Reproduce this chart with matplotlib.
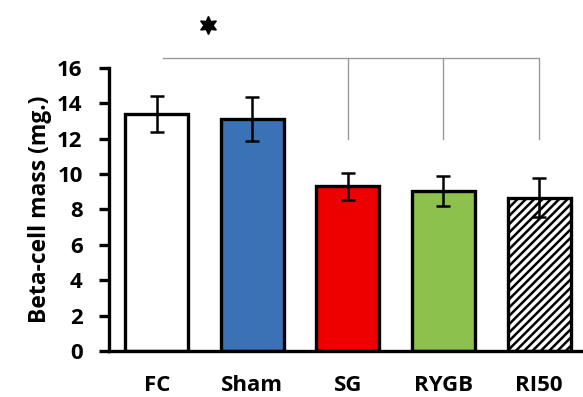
import matplotlib.pyplot as plt

# Beta-cell mass per group (mg.)
groups = ["FC", "Sham", "SG", "RYGB", "RI50"]
mass = [13.4, 13.1, 9.3, 9.05, 8.65]
err = [1.0, 1.25, 0.75, 0.85, 1.1]
colors = ["white", "#3a72b5", "#ee0000", "#8bc14c", "white"]
hatches = ["", "", "", "", "////"]

plt.rcParams["font.family"] = ["Open Sans", "DejaVu Sans"]
plt.rcParams["hatch.linewidth"] = 1.8

fig = plt.figure(figsize=(5.83, 3.97), dpi=100)
ax = fig.add_axes([0.187, 0.116, 0.813, 0.713])

x = range(len(groups))
bars = ax.bar(x, mass, width=0.66, color=colors, edgecolor="black", linewidth=2.4,
              yerr=err, error_kw=dict(ecolor="black", elinewidth=1.8, capsize=5, capthick=1.8))
for b, h in zip(bars, hatches):
    b.set_hatch(h)

ax.set_xlim(-0.5, 4.46)
ax.set_ylim(0, 16)
ax.set_yticks(range(0, 17, 2))
ax.set_xticks(list(x))
ax.set_xticklabels(groups, fontsize=16, fontweight="bold")
ax.set_ylabel("Beta-cell mass (mg.)", fontsize=16.5, fontweight="bold", labelpad=4)
for lab in ax.get_yticklabels():
    lab.set_fontsize(16)
    lab.set_fontweight("bold")

ax.tick_params(axis="x", length=0, pad=17)
ax.tick_params(axis="y", direction="out", length=7, width=2.4, pad=12)
ax.spines["top"].set_visible(False)
ax.spines["right"].set_visible(False)
ax.spines["left"].set_linewidth(2.4)
ax.spines["bottom"].set_linewidth(2.4)

# significance bracket
ax.plot([0.07, 4.0], [16.55, 16.55], color="#999999", lw=1, clip_on=False)
for xv in [2, 3, 4]:
    ax.plot([xv, xv], [12.0, 16.5], color="#999999", lw=1, clip_on=False)
ax.plot([0.54], [18.4], marker=(6, 1, 0), color="black", markersize=13, clip_on=False)

fig.savefig("out.png", dpi=100)
